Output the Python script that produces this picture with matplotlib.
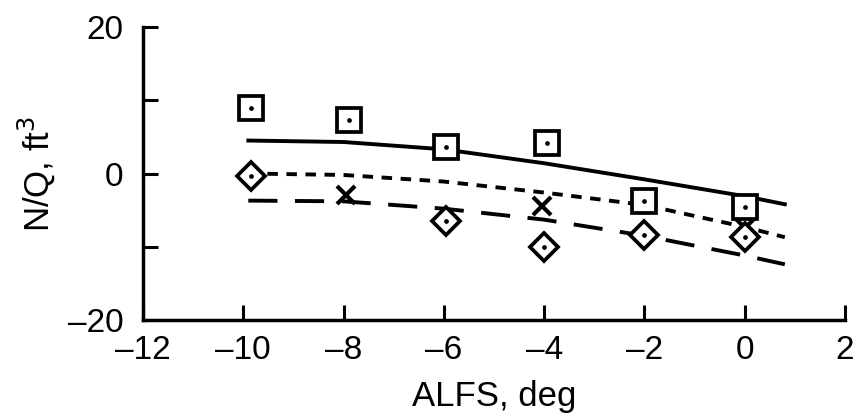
import matplotlib
matplotlib.use('Agg')

import matplotlib.pyplot as plt

# line curves
alfs_line = [-9.9, -8, -6, -4, -2, 0, 0.8]
solid_y = [4.5, 4.3, 3.3, 1.4, -0.8, -3.1, -4.2]
short_dash_y = [0.0, -0.2, -1.1, -2.6, -4.3, -7.3, -8.7]
long_dash_y = [-3.7, -3.8, -4.8, -6.3, -8.5, -11.2, -12.4]

# measured points
sq_x = [-9.85, -7.9, -5.95, -3.95, -2.0, 0.0]
sq_y = [9.0, 7.3, 3.6, 4.2, -3.8, -4.6]
dia_x = [-9.85, -5.95, -4.0, -2.0, 0.0]
dia_y = [-0.3, -6.5, -10.1, -8.4, -8.7]
x_x = [-7.95, -4.05, 0.0]
x_y = [-2.9, -4.5, -7.4]

plt.rcParams['font.family'] = ['Liberation Sans', 'DejaVu Sans']

DPI = 100
fig = plt.figure(figsize=(858 / DPI, 420 / DPI), dpi=DPI)
ax = fig.add_axes([143 / 858, 1 - 320 / 420, (845 - 143) / 858, (320 - 27) / 420])

lw = 2.8
ax.plot(alfs_line, solid_y, color='black', lw=lw, zorder=2)
ax.plot(alfs_line, short_dash_y, color='black', lw=lw, dashes=(2.7, 2.2), zorder=2)
ax.plot(alfs_line, long_dash_y, color='black', lw=lw, dashes=(7.5, 4.5), zorder=2)

ax.plot(x_x, x_y, ls='none', marker='x', ms=12.5, mew=3.0, color='black', zorder=3)
ax.plot(sq_x, sq_y, ls='none', marker='s', ms=17, mew=2.7, mfc='white', mec='black', zorder=4)
ax.plot(dia_x, dia_y, ls='none', marker='D', ms=14.5, mew=2.7, mfc='white', mec='black', zorder=4)
ax.plot(sq_x + dia_x, sq_y + dia_y, ls='none', marker='o', ms=2.4, color='black', zorder=5)

ax.set_xlim(-12, 2)
ax.set_ylim(-20, 20)
ax.set_xticks(range(-12, 3, 2))
ax.set_xticklabels(['\u201312', '\u201310', '\u20138', '\u20136', '\u20134', '\u20132', '0', '2'])
ax.set_yticks([-20, -10, 0, 10, 20])
ax.set_yticklabels(['\u201320', '', '0', '', '20'])

for s in ['top', 'right']:
    ax.spines[s].set_visible(False)
for s in ['left', 'bottom']:
    ax.spines[s].set_linewidth(2.5)

ax.tick_params(direction='in', length=11, width=2.2, labelsize=24)
ax.tick_params(axis='x', pad=11)
ax.tick_params(axis='y', pad=14)

ax.set_xlabel('ALFS, deg', fontsize=25, labelpad=10)
ax.set_ylabel('N/Q, ft$^3$', fontsize=25, labelpad=8)

plt.savefig('out.png', dpi=DPI)
